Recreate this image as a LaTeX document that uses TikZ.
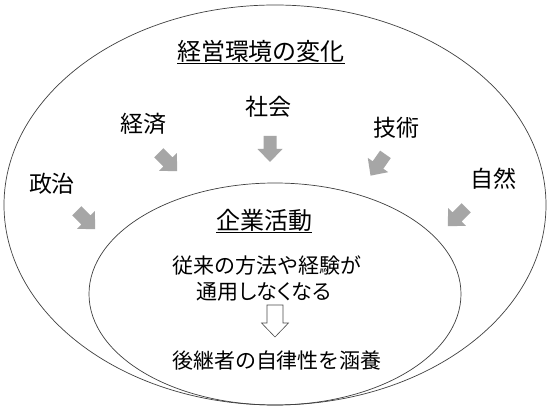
\documentclass[tikz,border=0pt]{standalone}
\usepackage{fontspec}
\setmainfont{Noto Sans CJK JP}
\newfontfamily\propfont[RawFeature=+palt]{Noto Sans CJK JP}
\usetikzlibrary{shapes.geometric}
\begin{document}
\begin{tikzpicture}[x=1pt,y=1pt,
  ring/.style={draw=black!75, line width=0.7pt, ellipse, inner sep=0pt},
  head/.style={inner sep=0pt, font=\fontsize{24}{28}\selectfont},
  lbl/.style={inner sep=0pt, font=\fontsize{23}{26}\selectfont},
  body/.style={inner sep=0pt, align=center, font=\fontsize{21}{26}\selectfont},
  garrow/.pic={\fill[gray!70] (-13,-6.5) -- (0,-6.5) -- (0,-12.5) -- (13,0) -- (0,12.5) -- (0,6.5) -- (-13,6.5) -- cycle;},
  harrow/.pic={\draw[black!70, fill=white, line width=0.6pt] (-8,16) -- (8,16) -- (8,-2) -- (13.5,-2) -- (0,-16) -- (-13.5,-2) -- (-8,-2) -- cycle;}]
\useasboundingbox (0,0) rectangle (550,410);
\fill[white] (0,0) rectangle (550,410);
\node[ring, minimum width=542, minimum height=400] (outer) at (275,205) {};
\node[ring, minimum width=372, minimum height=222] (inner) at (275,116) {};
% outer labels
\node[head] (title) at (261,358) {\underline{経営環境の変化}};
\node[lbl] (shakai) at (268,303) {社会};
\node[lbl] (keizai) at (143,286) {経済};
\node[lbl] (gijutsu) at (396,282) {技術};
\node[lbl] (seiji) at (52,226) {政治};
\node[lbl] (shizen) at (493,231) {自然};
% gray arrows
\pic[rotate=-90] at (270,261) {garrow};
\pic[rotate=-45] at (168,248) {garrow};
\pic[rotate=-125] at (378,245) {garrow};
\pic[rotate=-45] at (86,190) {garrow};
\pic[rotate=-135] at (457,193) {garrow};
% inner content
\node[head] (kigyo) at (264,189) {\underline{企業活動}};
\node[body] (l1) at (267,144) {従来の方法や経験が};
\node[body] (l2) at (264,118) {\propfont 通用しなくなる};
\pic at (275,89) {harrow};
\node[body] (l3) at (277,49) {後継者の自律性を涵養};
\end{tikzpicture}
\end{document}
